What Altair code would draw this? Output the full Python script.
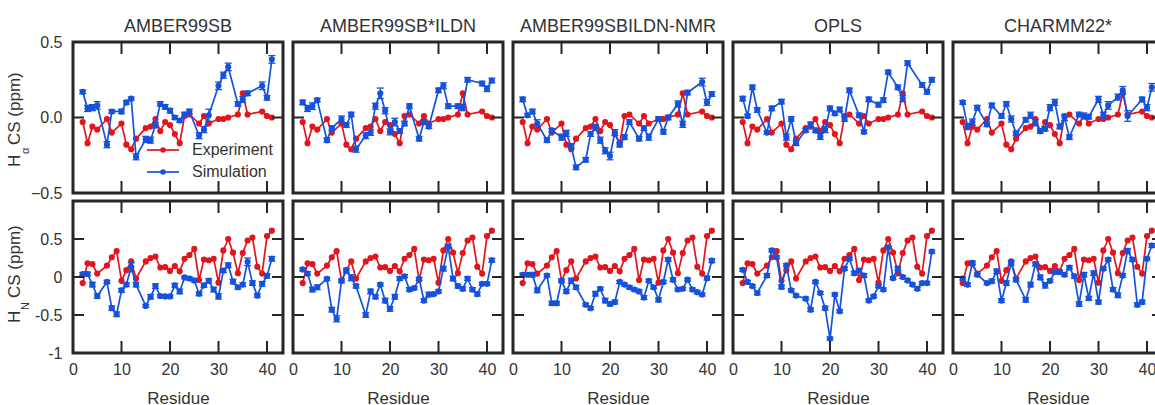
import altair as alt
import pandas as pd

# ---- data -------------------------------------------------------------
FIELDS = ["AMBER99SB", "AMBER99SB*ILDN", "AMBER99SBILDN-NMR", "OPLS", "CHARMM22*"]
SERIES = ["Experiment", "Simulation"]

# residues with an H-alpha shift (no His6/His14, no glycines)
RES_HA = [2, 3, 4, 5, 7, 8, 10, 11, 12, 13, 15, 16, 17, 18, 19, 20, 21, 22, 23, 24,
          26, 27, 28, 30, 31, 32, 34, 35, 36, 39, 40, 41]
# residues with an amide-H shift
RES_HN = [2, 3, 4, 5, 7, 8, 9, 10, 11, 12, 13] + list(range(15, 42))

EXP_HA = [-0.03, -0.17, -0.06, -0.08, -0.01, -0.10, -0.04, -0.18, -0.21, -0.14,
          -0.07, -0.06, -0.01, -0.09, -0.03, -0.05, -0.11, -0.17, 0.01, 0.02,
          -0.04, 0.01, -0.04, -0.01, -0.01, 0.0, 0.02, 0.16, 0.02, 0.04, 0.01, 0.0]

SIM_HA_AMBER99SB = [0.17, 0.06, 0.065, 0.08, -0.18, 0.04, 0.04, 0.10, 0.125, -0.26,
                    -0.145, -0.15, -0.05, 0.09, 0.07, 0.045, 0.0, -0.02, 0.02, 0.04,
                    -0.12, -0.08, 0.015, 0.21, 0.28, 0.335, 0.09, 0.12, 0.16, 0.21, 0.13, 0.385]
SIM_HA_ILDN = [0.10, 0.06, 0.075, 0.115, -0.15, -0.07, -0.01, -0.05, 0.02, -0.21,
               -0.12, -0.10, 0.075, 0.16, 0.045, -0.095, -0.03, -0.09, -0.04, 0.075,
               -0.14, -0.03, -0.06, 0.18, 0.21, 0.075, 0.075, 0.065, 0.25, 0.225, 0.19, 0.245]
SIM_HA_NMR = [0.12, 0.015, 0.04, -0.04, -0.15, -0.085, -0.13, -0.105, -0.19, -0.33,
              -0.28, -0.11, -0.065, -0.15, -0.22, -0.255, -0.10, -0.18, -0.13, -0.03,
              -0.14, -0.07, -0.13, -0.01, -0.095, 0.0, 0.09, -0.045, 0.165, 0.235, 0.10, 0.155]
SIM_HA_OPLS = [0.125, 0.01, 0.20, 0.05, -0.10, 0.06, 0.105, -0.13, -0.01, -0.17,
               -0.085, -0.045, -0.085, -0.125, -0.08, 0.06, 0.027, 0.053, -0.01, 0.18,
               0.015, -0.095, 0.12, 0.085, 0.115, 0.30, 0.20, 0.125, 0.36, 0.215, 0.17, 0.25]
SIM_HA_CHARMM = [0.10, -0.06, -0.03, 0.065, -0.045, 0.08, 0.01, 0.09, -0.01, -0.105,
                 -0.015, 0.015, -0.035, -0.09, -0.075, 0.065, 0.10, -0.06, 0.0, -0.13,
                 0.02, 0.01, 0.005, 0.12, 0.015, 0.08, 0.135, 0.18, 0.01, 0.12, 0.065, 0.20]

ERR_HA_AMBER99SB = [0.012, 0.02, 0.02, 0.025, 0.02, 0.012, 0.015, 0.012, 0.01, 0.02,
                    0.02, 0.02, 0.018, 0.015, 0.015, 0.015, 0.012, 0.012, 0.015, 0.015,
                    0.02, 0.02, 0.04, 0.025, 0.02, 0.025, 0.015, 0.02, 0.015, 0.025, 0.015, 0.025]
ERR_HA_ILDN = [0.015, 0.02, 0.022, 0.012, 0.015, 0.015, 0.02, 0.015, 0.015, 0.02,
               0.02, 0.018, 0.02, 0.035, 0.02, 0.02, 0.025, 0.015, 0.015, 0.015,
               0.015, 0.015, 0.012, 0.015, 0.02, 0.015, 0.015, 0.02, 0.015, 0.015, 0.018, 0.015]
ERR_HA_NMR = [0.015, 0.012, 0.015, 0.025, 0.015, 0.012, 0.02, 0.02, 0.015, 0.015,
              0.015, 0.015, 0.02, 0.02, 0.02, 0.025, 0.02, 0.015, 0.015, 0.015,
              0.015, 0.015, 0.02, 0.015, 0.015, 0.015, 0.02, 0.02, 0.015, 0.025, 0.02, 0.015]
ERR_HA_OPLS = [0.015, 0.012, 0.015, 0.015, 0.012, 0.015, 0.015, 0.02, 0.015, 0.015,
               0.012, 0.015, 0.015, 0.02, 0.02, 0.015, 0.012, 0.015, 0.015, 0.015,
               0.015, 0.012, 0.015, 0.015, 0.015, 0.012, 0.015, 0.02, 0.015, 0.015, 0.015, 0.015]
ERR_HA_CHARMM = [0.012, 0.02, 0.02, 0.015, 0.015, 0.015, 0.015, 0.015, 0.02, 0.015,
                 0.015, 0.02, 0.02, 0.015, 0.015, 0.02, 0.02, 0.015, 0.02, 0.015,
                 0.015, 0.02, 0.015, 0.02, 0.02, 0.025, 0.02, 0.025, 0.035, 0.015, 0.02, 0.025]

EXP_HN = [-0.08, 0.18, 0.17, 0.045, 0.15, 0.26, 0.34, -0.05, 0.09, 0.205, -0.02,
          0.205, 0.25, 0.27, 0.125, 0.13, 0.08, 0.145, 0.075, 0.24, 0.29, 0.37, -0.04,
          0.23, 0.22, 0.24, -0.075, 0.35, 0.5, 0.32, 0.05, 0.315, 0.48, 0.52, 0.135,
          0.045, 0.54, 0.61]

SIM_HN_AMBER99SB = [0.04, 0.04, -0.10, -0.25, -0.065, -0.41, -0.49, -0.175, -0.10, 0.13, -0.10,
                    -0.38, -0.26, -0.12, -0.25, -0.255, -0.255, -0.11, -0.19, -0.005, -0.02,
                    -0.045, -0.22, -0.11, -0.05, -0.165, -0.255, 0.085, 0.155, -0.06, -0.135,
                    -0.10, 0.20, -0.08, -0.245, -0.09, 0.015, 0.24]
SIM_HN_ILDN = [0.10, 0.045, -0.165, -0.135, -0.025, -0.43, -0.55, -0.05, 0.085, -0.01, -0.12,
               -0.50, -0.19, -0.26, -0.10, -0.31, -0.42, -0.26, -0.02, 0.01, -0.165,
               -0.145, -0.025, -0.31, -0.23, -0.225, -0.19, 0.11, 0.40, -0.02, -0.12,
               -0.155, -0.02, -0.165, -0.225, -0.09, -0.09, 0.22]
SIM_HN_NMR = [0.03, 0.03, 0.03, -0.175, 0.02, -0.345, -0.345, -0.05, -0.19, -0.05, -0.135,
              -0.365, -0.41, -0.22, -0.155, -0.31, -0.355, -0.33, -0.065, -0.10, -0.135,
              -0.165, -0.19, -0.27, -0.05, -0.135, -0.30, -0.065, 0.23, -0.035, -0.165,
              -0.155, -0.035, -0.165, -0.20, -0.23, -0.015, 0.215]
SIM_HN_OPLS = [0.095, -0.065, -0.12, -0.21, 0.02, 0.35, 0.26, -0.13, 0.155, -0.175, -0.245,
               -0.285, -0.43, -0.065, -0.21, -0.41, -0.81, -0.23, -0.45, 0.11, 0.24,
               0.05, 0.085, 0.02, -0.31, -0.255, -0.12, -0.165, 0.39, -0.015, 0.11,
               0.0, -0.045, -0.10, -0.155, -0.08, -0.08, 0.335]
SIM_HN_CHARMM = [-0.02, -0.10, 0.185, 0.03, -0.08, -0.055, 0.075, -0.31, -0.08, 0.185, -0.035,
                 -0.30, -0.10, 0.17, -0.005, -0.11, -0.05, 0.065, 0.065, 0.03, 0.125,
                 0.01, -0.355, 0.03, -0.28, 0.05, -0.33, 0.11, 0.23, -0.165, -0.24,
                 0.02, 0.345, 0.23, -0.365, -0.33, 0.24, 0.415]

ERR_HN_AMBER99SB = [0.02, 0.025, 0.03, 0.03, 0.02, 0.03, 0.03, 0.025, 0.025, 0.06,
                    0.03, 0.02, 0.03, 0.03, 0.02, 0.02, 0.02, 0.025, 0.03, 0.015,
                    0.02, 0.02, 0.025, 0.025, 0.03, 0.03, 0.035, 0.025, 0.03, 0.03,
                    0.025, 0.025, 0.05, 0.03, 0.025, 0.03, 0.03, 0.03]
ERR_HN_ILDN = [0.02, 0.025, 0.03, 0.03, 0.02, 0.03, 0.04, 0.025, 0.03, 0.04,
               0.025, 0.03, 0.03, 0.025, 0.02, 0.03, 0.03, 0.03, 0.025, 0.02,
               0.025, 0.02, 0.02, 0.025, 0.03, 0.02, 0.02, 0.03, 0.03, 0.03,
               0.025, 0.025, 0.025, 0.025, 0.025, 0.02, 0.02, 0.025]
ERR_HN_NMR = [0.02, 0.02, 0.03, 0.03, 0.02, 0.025, 0.025, 0.025, 0.025, 0.035,
              0.025, 0.02, 0.02, 0.03, 0.02, 0.03, 0.025, 0.025, 0.02, 0.02,
              0.02, 0.02, 0.02, 0.025, 0.02, 0.02, 0.025, 0.02, 0.025, 0.025,
              0.02, 0.02, 0.02, 0.02, 0.02, 0.02, 0.025, 0.025]
ERR_HN_OPLS = [0.02, 0.02, 0.02, 0.025, 0.025, 0.02, 0.02, 0.025, 0.02, 0.02,
               0.02, 0.02, 0.025, 0.02, 0.02, 0.025, 0.02, 0.02, 0.02, 0.02,
               0.02, 0.025, 0.025, 0.025, 0.02, 0.02, 0.02, 0.02, 0.02, 0.02,
               0.025, 0.02, 0.02, 0.02, 0.02, 0.02, 0.02, 0.02]
ERR_HN_CHARMM = [0.02, 0.025, 0.025, 0.02, 0.02, 0.025, 0.03, 0.025, 0.03, 0.03,
                 0.025, 0.03, 0.03, 0.025, 0.03, 0.035, 0.02, 0.025, 0.025, 0.02,
                 0.025, 0.025, 0.03, 0.03, 0.025, 0.03, 0.025, 0.02, 0.02, 0.025,
                 0.03, 0.025, 0.03, 0.025, 0.025, 0.025, 0.02, 0.025]

X_DOMAIN = [0, 43.3]
X_LABELS = [0, 10, 20, 30, 40]
X_TICKS = [10, 20, 30, 40]

# ---- style ------------------------------------------------------------
FONT = "Liberation Sans"
RED = "#e3141b"
BLUE = "#1452de"
FRAME = "#262626"
TEXT = "#333333"
W = 210
TICK_LEN = 12

ROWS = [
    dict(res=RES_HA, exp=EXP_HA,
         sim=[SIM_HA_AMBER99SB, SIM_HA_ILDN, SIM_HA_NMR, SIM_HA_OPLS, SIM_HA_CHARMM],
         err=[ERR_HA_AMBER99SB, ERR_HA_ILDN, ERR_HA_NMR, ERR_HA_OPLS, ERR_HA_CHARMM],
         domain=[-0.5, 0.5], yvals=[-0.5, 0.0, 0.5], label_expr="format(datum.value, '.1f')",
         height=151, sub="\u03b1",
         title_y=(125, 112, 103)),
    dict(res=RES_HN, exp=EXP_HN,
         sim=[SIM_HN_AMBER99SB, SIM_HN_ILDN, SIM_HN_NMR, SIM_HN_OPLS, SIM_HN_CHARMM],
         err=[ERR_HN_AMBER99SB, ERR_HN_ILDN, ERR_HN_NMR, ERR_HN_OPLS, ERR_HN_CHARMM],
         domain=[-1, 1], yvals=[-1, -0.5, 0, 0.5], label_expr="'' + datum.value",
         height=152, sub="N",
         title_y=(122, 109, 97)),
]


def make_panel(r, c):
    row = ROWS[r]
    h = row["height"]
    exp_df = pd.DataFrame({"res": row["res"], "cs": row["exp"]})
    sim_df = pd.DataFrame({"res": row["res"], "cs": row["sim"][c], "err": row["err"][c]})
    sim_df["lo"] = sim_df["cs"] - sim_df["err"]
    sim_df["hi"] = sim_df["cs"] + sim_df["err"]

    xscale = alt.Scale(domain=X_DOMAIN, nice=False, zero=False)
    yscale = alt.Scale(domain=row["domain"], nice=False)

    if r == 1:
        xaxis = alt.Axis(values=X_LABELS, labelFlush=False, labelOverlap=False, ticks=False,
                         domain=False, grid=False, labelFontSize=16, labelColor=TEXT,
                         labelPadding=8, title="Residue", titleFontSize=17,
                         titleFontWeight="normal", titleColor=TEXT, titlePadding=13)
    else:
        xaxis = None
    if c == 0:
        yaxis = alt.Axis(values=row["yvals"], labelExpr=row["label_expr"], ticks=False,
                         domain=False, grid=False, labelFontSize=16, labelColor=TEXT,
                         labelPadding=11, labelFlush=False, title=None)
    else:
        yaxis = None

    def X(field):
        return alt.X(field, type="quantitative", scale=xscale, axis=xaxis, title=None)

    def Y(field):
        return alt.Y(field, type="quantitative", scale=yscale, axis=yaxis, title=None)

    exp = alt.Chart(exp_df)
    sim = alt.Chart(sim_df)
    layers = [
        exp.mark_line(color=RED, strokeWidth=1.7).encode(x=X("res"), y=Y("cs")),
        exp.mark_circle(color=RED, size=38, opacity=1).encode(x=X("res"), y=Y("cs")),
        sim.mark_rule(color=BLUE, strokeWidth=1.3).encode(x=X("res"), y=Y("lo"), y2="hi:Q"),
        sim.mark_tick(color=BLUE, orient="horizontal", size=7, thickness=1.3, opacity=1)
           .encode(x=X("res"), y=Y("lo")),
        sim.mark_tick(color=BLUE, orient="horizontal", size=7, thickness=1.3, opacity=1)
           .encode(x=X("res"), y=Y("hi")),
        sim.mark_line(color=BLUE, strokeWidth=1.7).encode(x=X("res"), y=Y("cs")),
        sim.mark_circle(color=BLUE, size=38, opacity=1).encode(x=X("res"), y=Y("cs")),
    ]

    # inward-pointing tick marks on all four sides
    xt = alt.Chart(pd.DataFrame({"t": X_TICKS}))
    layers.append(xt.mark_rule(color=FRAME, strokeWidth=2)
                  .encode(x=X("t"), y=alt.value(0), y2=alt.value(TICK_LEN)))
    layers.append(xt.mark_rule(color=FRAME, strokeWidth=2)
                  .encode(x=X("t"), y=alt.value(h - TICK_LEN), y2=alt.value(h)))
    yt = alt.Chart(pd.DataFrame({"t": row["yvals"]}))
    layers.append(yt.mark_rule(color=FRAME, strokeWidth=2)
                  .encode(y=Y("t"), x=alt.value(0), x2=alt.value(TICK_LEN - 1)))
    layers.append(yt.mark_rule(color=FRAME, strokeWidth=2)
                  .encode(y=Y("t"), x=alt.value(W - TICK_LEN + 1), x2=alt.value(W)))

    if c == 0:
        # y title with a subscripted nucleus label
        ty = row["title_y"]
        parts = pd.DataFrame({"part": ["H", row["sub"], "CS (ppm)"]})
        for part, size, xoff, yoff in [("H", 17, -53.5, ty[0]),
                                       (row["sub"], 11, -44, ty[1]),
                                       ("CS (ppm)", 17, -53.5, ty[2])]:
            layers.append(
                alt.Chart(parts).transform_filter(alt.datum.part == part)
                .mark_text(angle=270, align="left", baseline="alphabetic", fontSize=size,
                           font=FONT, color=TEXT)
                .encode(x=alt.value(xoff), y=alt.value(yoff), text="part:N"))

    if r == 0 and c == 0:
        leg = pd.DataFrame({"label": SERIES})
        for i, (name, col) in enumerate(zip(SERIES, [RED, BLUE])):
            yy = 108 + 22 * i
            base = alt.Chart(leg).transform_filter(alt.datum.label == name)
            layers.append(base.mark_rule(color=col, strokeWidth=1.7)
                          .encode(x=alt.value(74), x2=alt.value(106), y=alt.value(yy)))
            layers.append(base.mark_circle(color=col, size=30, opacity=1)
                          .encode(x=alt.value(90), y=alt.value(yy)))
            layers.append(base.mark_text(align="left", baseline="middle", fontSize=16,
                                         font=FONT, color=TEXT)
                          .encode(x=alt.value(119), y=alt.value(yy), text="label:N"))

    props = dict(width=W, height=h)
    if r == 0:
        # the first column's group bounds reach higher (its top axis label),
        # so its title needs a smaller offset to sit on the same line
        props["title"] = alt.TitleParams(text=FIELDS[c], fontSize=18, fontWeight="normal",
                                         color=TEXT, font=FONT,
                                         offset=-2 if c == 0 else 5, anchor="middle")
    return alt.layer(*layers).properties(**props)


panels = [make_panel(r, c) for r in range(2) for c in range(5)]

# the last column runs past the right edge of the page, as in a cropped figure
chart = (
    alt.concat(*panels, columns=5, spacing={"row": 8, "column": 10}, bounds="flush")
    .properties(padding={"left": 4, "top": 16, "right": -11, "bottom": -4},
                background="white")
    .configure_view(stroke=FRAME, strokeWidth=3)
    .configure_axis(labelFont=FONT, titleFont=FONT)
    .configure_title(font=FONT)
)

chart.save("out.html", embed_options={"renderer": "svg", "actions": False})
